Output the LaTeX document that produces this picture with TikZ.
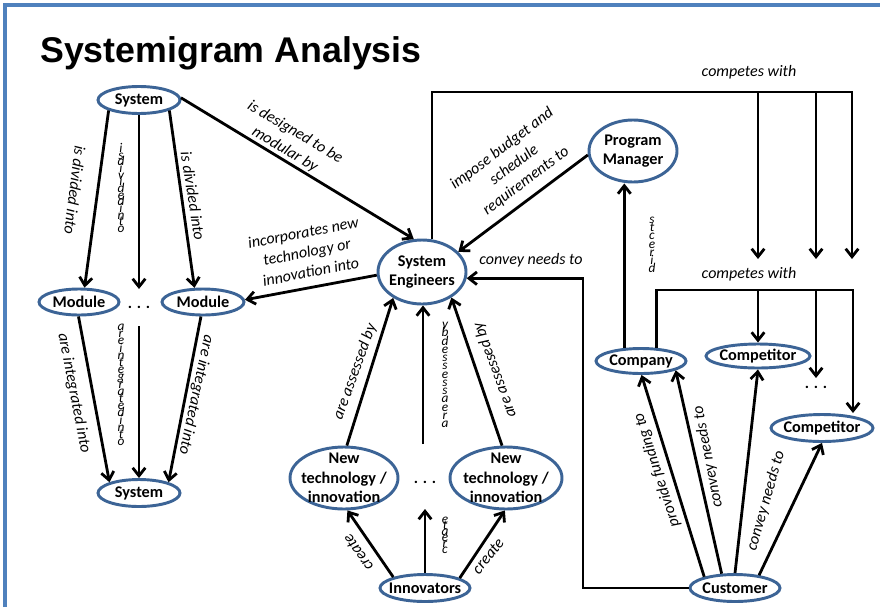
\documentclass[tikz,border=0pt]{standalone}
\usepackage{fontspec}
\setmainfont{Carlito}
\newfontfamily\headfont{Liberation Sans}
\usetikzlibrary{shapes.geometric,arrows.meta,calc}
\definecolor{ringblue}{RGB}{60,100,150}
\definecolor{frameblue}{RGB}{79,129,189}

\begin{document}
\begin{tikzpicture}[x=0.75pt,y=-0.75pt,
  oval/.style={ellipse, draw=ringblue, line width=2.2pt, fill=white, inner sep=0pt},
  ntext/.style={align=center, font=\bfseries\fontsize{12.2}{14.5}\selectfont, inner sep=0pt},
  conn/.style={line width=2.1pt, -{Straight Barb[length=6pt,width=9.5pt]}},
  lab/.style={font=\itshape\fontsize{12}{15}\selectfont, align=center, inner sep=0pt},
  garble/.style={font={\itshape\fontsize{10}{#1}\selectfont\lineskiplimit=-30pt}, align=center, inner sep=0pt},
  dotsty/.style={font=\bfseries\fontsize{12}{14}\selectfont, inner sep=0pt}
]
\useasboundingbox (0,0) rectangle (880,607);
\fill[white] (0,0) rectangle (880,607);
\draw[frameblue, line width=3pt] (5,607) -- (5,5) -- (880,5);

% title
\node[anchor=base west, inner sep=0pt, font=\headfont\bfseries\fontsize{26.8}{30}\selectfont] (title) at (40,62) {Systemigram Analysis};

% ---------- nodes ----------
\node[oval, minimum width=61.5pt, minimum height=20.25pt, label={[ntext]center:System}] (sysA) at (139,100) {};
\node[oval, minimum width=60pt, minimum height=19.5pt, label={[ntext]center:Module}] (modL) at (79,302) {};
\node[oval, minimum width=61.5pt, minimum height=19.5pt, label={[ntext]center:Module}] (modR) at (203,302) {};
\node[oval, minimum width=61.5pt, minimum height=20.25pt, label={[ntext]center:System}] (sysB) at (139,493) {};
\node[oval, minimum width=66pt, minimum height=48pt, label={[ntext]center:System\\Engineers}] (se) at (422,272) {};
\node[oval, minimum width=66pt, minimum height=46.5pt, label={[ntext]center:Program\\Manager}] (pm) at (633,151) {};
\node[oval, minimum width=81pt, minimum height=46.5pt, label={[ntext]center:New\\technology /\\innovation}] (ntl) at (344,478) {};
\node[oval, minimum width=84pt, minimum height=46.5pt, label={[ntext]center:New\\technology /\\innovation}] (ntr) at (506,478) {};
\node[oval, minimum width=67.5pt, minimum height=20.25pt, label={[ntext]center:Innovators}] (inn) at (425,588) {};
\node[oval, minimum width=67.5pt, minimum height=18.75pt, label={[ntext]center:Company}] (comp) at (641,361) {};
\node[oval, minimum width=78pt, minimum height=18pt, label={[ntext]center:Competitor}] (cmpA) at (758,356) {};
\node[oval, minimum width=76.5pt, minimum height=20.25pt, label={[ntext]center:Competitor}] (cmpB) at (822,428) {};
\node[oval, minimum width=67.5pt, minimum height=20.25pt, label={[ntext]center:Customer}] (cust) at (735,588) {};

% ellipsis markers
\node[dotsty] (dA) at (139,307) {. . .};
\node[dotsty] (dB) at (425,482) {. . .};
\node[dotsty] (dC) at (816,387) {. . .};

\coordinate (dAtop) at (139,289);
\coordinate (dAbot) at (139,326);
\coordinate (dBbot) at (423,444);
\coordinate (dBtop) at (425,509);
\coordinate (dCtop) at (816,378);

% ---------- system decomposition ----------
\draw[conn] (sysA.199) -- (modL.69);
\draw[conn] (sysA.south) -- (dAtop);
\draw[conn] (sysA.341) -- (modR.121);
\draw[conn] (modL.268) -- (sysB.160);
\draw[conn] (dAbot) -- (sysB.north);
\draw[conn] (modR.262) -- (sysB.20);

\node[lab, rotate=-97] (l1) at (75,190) {is divided into};
\node[garble=5pt] (l2) at (121,188) {i\\s\\d\\i\\v\\i\\d\\e\\d\\i\\n\\t\\o};
\node[lab, rotate=-81] (l3) at (193,196) {is divided into};
\node[lab, rotate=-79] (l4) at (74,393) {are integrated into};
\node[garble=5.4pt] (l5) at (121,385) {a\\r\\e\\i\\n\\t\\e\\g\\r\\a\\t\\e\\d\\i\\n\\t\\o};
\node[lab, rotate=-102] (l6) at (196,395) {are integrated into};

% ---------- system engineers ----------
\draw[conn] (sysA.3) -- (se.104);
\node[lab, rotate=-31] (l7) at (290,141) {is designed to be\\modular by};
\draw[conn] (se.184) -- (modR.3);
\node[lab, rotate=11] (l8) at (307,252) {incorporates new\\technology or\\innovation into};
\draw[conn] (pm.185) -- (se.29);
\node[lab, rotate=37] (l9) at (514,165) {impose budget and\\schedule\\requirements to};

% competes with (upper)
\coordinate (tA) at (852,92);
\coordinate (tAe) at (852,259);
\coordinate (tB) at (758,92);
\coordinate (tBe) at (758,259);
\coordinate (tC) at (816,92);
\coordinate (tCe) at (816,259);
\draw[conn] (se.73) |- (tA) -- (tAe);
\draw[conn] (tB) -- (tBe);
\draw[conn] (tC) -- (tCe);
\node[lab] (l10) at (749,72) {competes with};

% convey needs to (customer -> system engineers)
\coordinate (cbend) at (583,430);
\draw[conn] (cust.west) -| (cbend) |- (se.352);
\node[lab] (l11) at (531,260) {convey needs to};

% ---------- company side ----------
\draw[conn] (comp.142) -- (comp.142 |- pm.south);
\node[garble=6.2pt] (l12) at (652,245) {s\\t\\c\\e\\r\\i\\d};

\coordinate (kA) at (853,290);
\coordinate (kB) at (758,290);
\coordinate (kC) at (816,290);
\draw[conn] (comp.40) |- (kA) -- (kA |- cmpB.north);
\draw[conn] (kB) -- (cmpA.north);
\draw[conn] (kC) -- (dCtop);
\node[lab] (l13) at (749,274) {competes with};

\draw[conn] (cust.160) -- (comp.272);
\node[lab, rotate=108] (l14) at (657,470) {provide funding to};
\draw[conn] (cust.133) -- (comp.345);
\node[lab, rotate=101] (l15) at (708,457) {convey needs to};
\draw[conn] (cust.north) -- (cmpA.south);
\draw[conn] (cust.28) -- (cmpB.south);
\node[lab, rotate=74] (l16) at (766,501) {convey needs to};

% ---------- innovation ----------
\draw[conn] (ntl.85) -- (se.222);
\node[lab, rotate=70] (l17) at (355,372) {are assessed by};
\draw[conn] (dBbot) -- (dBbot |- se.south);
\node[garble=6.2pt] (l18) at (445,375) {y\\b\\d\\e\\s\\s\\e\\s\\s\\a\\e\\r\\a};
\draw[conn] (ntr.97) -- (se.319);
\node[lab, rotate=110] (l19) at (495,370) {are assessed by};

\draw[conn] (inn.161) -- (ntl.276);
\node[lab, rotate=125] (l20) at (358,553) {create};
\draw[conn] (inn.north) -- (inn.north |- dBtop);
\node[garble=4.5pt] (l21) at (445,535) {e\\t\\a\\e\\r\\c};
\draw[conn] (inn.16) -- (ntr.268);
\node[lab, rotate=51] (l22) at (488,556) {create};
\end{tikzpicture}
\end{document}
